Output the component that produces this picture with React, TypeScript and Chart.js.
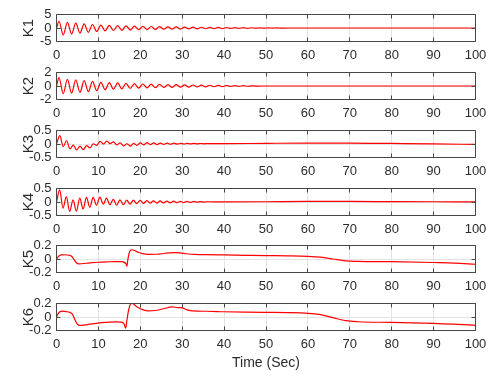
import React, { useEffect, useRef } from 'react';
import { Chart, registerables } from 'chart.js';

Chart.register(...registerables);

// ---------- data ----------
const xTickValues = [0, 10, 20, 30, 40, 50, 60, 70, 80, 90, 100];
const xTickLabels = ['0', '10', '20', '30', '40', '50', '60', '70', '80', '90', '100'];
const xAxisTitle = 'Time (Sec)';

const panelNames = ['K1', 'K2', 'K3', 'K4', 'K5', 'K6'];
const yTickValues = [
  [-5, 0, 5],
  [-2, 0, 2],
  [-0.5, 0, 0.5],
  [-0.5, 0, 0.5],
  [-0.2, 0, 0.2],
  [-0.2, 0, 0.2],
];
const yTickLabels = [
  ['-5', '0', '5'],
  ['-2', '0', '2'],
  ['-0.5', '0', '0.5'],
  ['-0.5', '0', '0.5'],
  ['-0.2', '0', '0.2'],
  ['-0.2', '0', '0.2'],
];

// [time, value]
const k1: number[][] = [
  [0, 0], [0.6, 2.5], [1.6, -2.6], [2.6, 2.1], [3.6, -2.2], [4.6, 1.8], [5.6, -1.9], [6.6, 1.5],
  [7.6, -1.6], [8.6, 1.3], [9.6, -1.3], [10.6, 1.1], [11.6, -1.1], [12.6, 1.0], [13.6, -0.95],
  [14.6, 0.9], [15.6, -0.85], [16.6, 0.8], [17.6, -0.75], [18.6, 0.7], [19.6, -0.65], [20.6, 0.6],
  [21.6, -0.58], [22.6, 0.55], [23.6, -0.52], [24.6, 0.5], [25.6, -0.47], [26.6, 0.45], [27.6, -0.42],
  [28.6, 0.4], [29.6, -0.38], [30.6, 0.36], [31.6, -0.34], [32.6, 0.32], [33.6, -0.3], [34.6, 0.28],
  [35.6, -0.27], [36.6, 0.25], [37.6, -0.24], [38.6, 0.22], [39.6, -0.21], [40.6, 0.19], [41.6, -0.17],
  [42.6, 0.15], [43.6, -0.14], [44.6, 0.12], [45.6, -0.11], [46.6, 0.1], [47.6, -0.08], [48.6, 0.07],
  [49.6, -0.06], [50.6, 0.05], [51.6, -0.04], [52.6, 0.03], [53.6, -0.02], [55, 0], [100, 0],
];

const k2: number[][] = [
  [0, 0], [0.6, 1.25], [1.6, -1.15], [2.6, 1.0], [3.6, -1.05], [4.6, 0.9], [5.6, -0.95], [6.6, 0.8],
  [7.6, -0.85], [8.6, 0.7], [9.6, -0.7], [10.6, 0.55], [11.6, -0.55], [12.6, 0.5], [13.6, -0.48],
  [14.6, 0.45], [15.6, -0.42], [16.6, 0.4], [17.6, -0.37], [18.6, 0.35], [19.6, -0.32], [20.6, 0.3],
  [21.6, -0.28], [22.6, 0.27], [23.6, -0.25], [24.6, 0.24], [25.6, -0.22], [26.6, 0.21], [27.6, -0.2],
  [28.6, 0.19], [29.6, -0.18], [30.6, 0.17], [31.6, -0.16], [32.6, 0.15], [33.6, -0.14], [34.6, 0.13],
  [35.6, -0.12], [36.6, 0.11], [37.6, -0.1], [38.6, 0.09], [39.6, -0.09], [40.6, 0.08], [41.6, -0.07],
  [42.6, 0.06], [43.6, -0.05], [44.6, 0.05], [45.6, -0.04], [46.6, 0.03], [47.6, -0.02], [49, 0], [100, 0],
];

const k3: number[][] = [
  [0, 0], [0.8, 0.31], [1.6, -0.1], [2.4, 0.13], [3.2, -0.18], [4.0, -0.04], [4.8, -0.22], [5.6, -0.08],
  [6.4, -0.21], [7.2, -0.06], [8.0, -0.14], [8.8, 0.01], [9.6, -0.05], [10.4, 0.1], [11.2, 0.0],
  [12.0, 0.11], [12.8, 0.01], [13.6, 0.08], [14.4, -0.03], [15.2, 0.04], [16.0, -0.07], [16.8, 0.01],
  [17.6, -0.08], [18.4, 0.02], [19.2, -0.05], [20.0, 0.04], [20.8, -0.03], [21.6, 0.05], [22.4, -0.02],
  [23.2, 0.04], [24.0, -0.02], [24.8, 0.035], [25.6, -0.015], [26.4, 0.03], [27.2, -0.01], [28.0, 0.03],
  [28.8, -0.005], [29.6, 0.025], [30.4, 0.0], [31.2, 0.02], [32.0, 0.002], [32.8, 0.02], [33.6, 0.005],
  [34.4, 0.018], [35.2, 0.008], [36, 0.015], [40, 0.012], [50, 0.025], [60, 0.035], [70, 0.035],
  [80, 0.02], [90, 0.005], [100, -0.015],
];

const k4: number[][] = [
  [0, 0], [0.75, 0.45], [1.55, -0.23], [2.35, 0.2], [3.15, -0.35], [3.95, 0.08], [4.75, -0.34],
  [5.55, 0.14], [6.35, -0.26], [7.15, 0.17], [7.95, -0.2], [8.75, 0.17], [9.55, -0.12], [10.35, 0.18],
  [11.15, -0.08], [11.95, 0.14], [12.75, -0.1], [13.55, 0.1], [14.35, -0.12], [15.15, 0.08],
  [15.95, -0.1], [16.75, 0.07], [17.55, -0.08], [18.35, 0.07], [19.15, -0.06], [19.95, 0.06],
  [20.75, -0.05], [21.55, 0.05], [22.35, -0.045], [23.15, 0.045], [23.95, -0.04], [24.75, 0.04],
  [25.55, -0.035], [26.35, 0.035], [27.15, -0.03], [27.95, 0.03], [28.75, -0.025], [29.55, 0.025],
  [30.35, -0.02], [31.15, 0.02], [31.95, -0.015], [32.75, 0.02], [33.55, -0.01], [34.35, 0.015],
  [35.15, -0.005], [36, 0.01], [40, 0.005], [50, 0.01], [60, 0.02], [70, 0.02], [80, 0.015],
  [90, 0.01], [100, 0.005],
];

const k5: number[][] = [
  [0, 0], [0.5, 0.04], [1.2, 0.062], [2.0, 0.063], [3.0, 0.055], [3.6, 0.04], [4.2, -0.01],
  [4.8, -0.06], [5.3, -0.072], [6, -0.07], [8, -0.058], [10, -0.048], [12, -0.042], [14, -0.038],
  [15.5, -0.04], [16.2, -0.05], [16.6, -0.075], [16.8, -0.105], [17.0, -0.02], [17.3, 0.08],
  [17.7, 0.13], [18.0, 0.137], [18.6, 0.125], [19.5, 0.1], [20.5, 0.08], [22, 0.068], [24, 0.07],
  [26, 0.085], [28, 0.093], [29.5, 0.09], [31, 0.078], [33, 0.068], [36, 0.064], [40, 0.06],
  [45, 0.055], [50, 0.05], [55, 0.047], [60, 0.04], [63, 0.028], [66, 0.0], [69, -0.028],
  [72, -0.035], [80, -0.04], [90, -0.052], [95, -0.06], [100, -0.078],
];

const k6: number[][] = [
  [0, 0], [0.5, 0.06], [1.3, 0.088], [2.2, 0.08], [3.2, 0.068], [3.8, 0.04], [4.4, -0.04],
  [5.0, -0.11], [5.5, -0.125], [6.5, -0.12], [8, -0.105], [10, -0.09], [12, -0.08], [14, -0.072],
  [15.5, -0.075], [16.1, -0.1], [16.5, -0.165], [16.8, -0.05], [17.2, 0.1], [17.7, 0.2], [18.0, 0.21],
  [18.6, 0.18], [19.5, 0.14], [20.5, 0.11], [22, 0.09], [24, 0.1], [26, 0.13], [27.5, 0.15],
  [29, 0.14], [30, 0.135], [31, 0.11], [32.5, 0.09], [36, 0.085], [40, 0.078], [45, 0.072],
  [50, 0.068], [55, 0.065], [60, 0.055], [63, 0.035], [66, -0.01], [69, -0.055], [72, -0.07],
  [80, -0.08], [90, -0.095], [95, -0.105], [100, -0.125],
];

const seriesList = [k1, k2, k3, k4, k5, k6];

// ---------- layout / style ----------
const WIDTH = 486;
const HEIGHT = 371;
const PLOT_TOPS = [14, 72, 130, 188, 245, 303];
const PLOT_H = 27;
const CANVAS_OFFSET = 8;
const PAD_TOP = 8.5;
const AXIS_H = 22.5;
const LAST_AXIS_H = 41.5;
const Y_AXIS_W = 56.5;
const PAD_RIGHT = 10.5;
const FONT = 'Helvetica, Arial, "Liberation Sans", sans-serif';
const TEXT_COLOR = '#2b2b2b';
const GRID_COLOR = '#e3e3e3';
const BOX_COLOR = '#474747';
const LINE_COLOR = '#ff0000';

const boxPlugin = {
  id: 'matlabBox',
  afterDatasetsDraw(chart: any) {
    const { ctx, chartArea, scales } = chart;
    const { left, right, top, bottom } = chartArea;
    const x = scales.x;
    const y = scales.y;
    const tl = 4;
    ctx.save();
    ctx.strokeStyle = BOX_COLOR;
    ctx.lineWidth = 1;
    ctx.beginPath();
    ctx.rect(left, top, right - left, bottom - top);
    x.ticks.forEach((t: any) => {
      const p = Math.round(x.getPixelForValue(t.value) - 0.5) + 0.5;
      ctx.moveTo(p, bottom);
      ctx.lineTo(p, bottom - tl);
      ctx.moveTo(p, top);
      ctx.lineTo(p, top + tl);
    });
    y.ticks.forEach((t: any) => {
      const p = Math.round(y.getPixelForValue(t.value) - 0.5) + 0.5;
      ctx.moveTo(left, p);
      ctx.lineTo(left + tl, p);
      ctx.moveTo(right, p);
      ctx.lineTo(right - tl, p);
    });
    ctx.stroke();
    ctx.restore();
  },
};

function Panel({ index }: { index: number }) {
  const ref = useRef<HTMLCanvasElement | null>(null);
  const isLast = index === panelNames.length - 1;
  const axisH = isLast ? LAST_AXIS_H : AXIS_H;
  const canvasH = PAD_TOP + PLOT_H + axisH;
  const top = PLOT_TOPS[index] - CANVAS_OFFSET;

  useEffect(() => {
    const canvas = ref.current;
    if (!canvas) return;
    const pts = seriesList[index].map((p) => ({ x: p[0], y: p[1] }));
    const yt = yTickValues[index];
    const yl = yTickLabels[index];
    const chart = new Chart(canvas, {
      type: 'line',
      data: {
        datasets: [
          {
            data: pts,
            borderColor: LINE_COLOR,
            borderWidth: 1.2,
            pointRadius: 0,
            fill: false,
            cubicInterpolationMode: 'monotone',
          },
        ],
      },
      options: {
        responsive: false,
        animation: false,
        devicePixelRatio: 1,
        events: [],
        layout: {
          autoPadding: false,
          padding: { top: PAD_TOP, right: PAD_RIGHT, left: 0, bottom: 0 },
        },
        plugins: {
          legend: { display: false },
          tooltip: { enabled: false },
        },
        scales: {
          x: {
            type: 'linear',
            min: 0,
            max: 100,
            afterBuildTicks: (s: any) => {
              s.ticks = xTickValues.map((v) => ({ value: v }));
            },
            afterFit: (s: any) => {
              s.height = axisH;
              s.paddingLeft = 0;
              s.paddingRight = 0;
            },
            ticks: {
              autoSkip: false,
              maxRotation: 0,
              padding: 6,
              color: TEXT_COLOR,
              font: { family: FONT, size: 13 },
              callback: (v: any) => {
                const i = xTickValues.indexOf(Number(v));
                return i >= 0 ? xTickLabels[i] : '';
              },
            },
            grid: { color: GRID_COLOR, drawTicks: false, lineWidth: 1 },
            border: { display: false },
            title: {
              display: isLast,
              text: xAxisTitle,
              color: TEXT_COLOR,
              font: { family: FONT, size: 14 },
              padding: { top: 0, bottom: 0 },
            },
          },
          y: {
            type: 'linear',
            min: yt[0],
            max: yt[yt.length - 1],
            afterBuildTicks: (s: any) => {
              s.ticks = yt.map((v) => ({ value: v }));
            },
            afterFit: (s: any) => {
              s.width = Y_AXIS_W;
              s.paddingTop = 0;
              s.paddingBottom = 0;
            },
            ticks: {
              autoSkip: false,
              padding: 5,
              color: TEXT_COLOR,
              font: { family: FONT, size: 13 },
              callback: (v: any) => {
                const i = yt.findIndex((t) => Math.abs(t - Number(v)) < 1e-9);
                return i >= 0 ? yl[i] : '';
              },
            },
            grid: { color: GRID_COLOR, drawTicks: false, lineWidth: 1 },
            border: { display: false },
            title: {
              display: true,
              text: panelNames[index],
              color: TEXT_COLOR,
              font: { family: FONT, size: 15 },
              padding: { top: 20, bottom: 0 },
            },
          },
        },
      },
      plugins: [boxPlugin],
    } as any);
    return () => chart.destroy();
  }, [index]);

  return (
    <canvas
      ref={ref}
      width={WIDTH}
      height={canvasH}
      style={{ position: 'absolute', left: 0, top, width: WIDTH, height: canvasH, display: 'block' }}
    />
  );
}

export default function App() {
  return (
    <div
      style={{
        position: 'fixed',
        left: 0,
        top: 0,
        width: WIDTH,
        height: HEIGHT,
        overflow: 'hidden',
        background: '#ffffff',
      }}
    >
      {panelNames.map((_, i) => (
        <Panel key={i} index={i} />
      ))}
    </div>
  );
}
